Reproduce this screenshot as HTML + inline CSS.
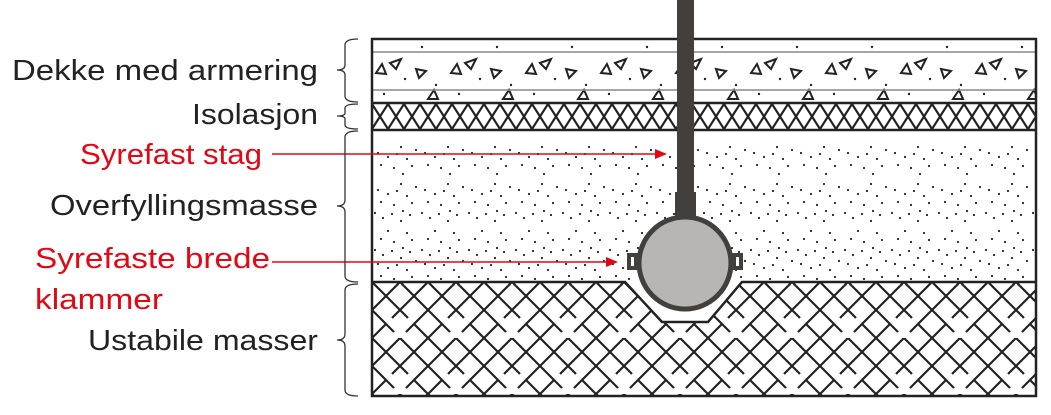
<!DOCTYPE html>
<html><head><style>
body{margin:0;background:#fff;width:1051px;height:410px;overflow:hidden}
svg text{font-family:"Liberation Sans",sans-serif;font-size:29px}
</style></head><body>
<svg width="1051" height="410" viewBox="0 0 1051 410" xmlns="http://www.w3.org/2000/svg">
<defs>
<pattern id="xh" width="16" height="25" patternUnits="userSpaceOnUse" x="372" y="104">
<path d="M0 0L16 25M16 0L0 25" stroke="#222" stroke-width="2.2"/>
</pattern>
<pattern id="us" width="56" height="56" patternUnits="userSpaceOnUse" x="372" y="282">
<g stroke="#222" stroke-width="2.2">
<path d="M0 0L36 36M42 42L56 56M28 0L56 28M-28 28L0 56M0 28L22 50"/>
<path d="M56 0L20 36M14 42L0 56M28 0L0 28M84 28L56 56M56 28L34 50"/>
</g>
</pattern>
<pattern id="dots" width="47" height="37" patternUnits="userSpaceOnUse" x="372" y="135">
<g fill="#222"><circle cx="3" cy="4" r="1.1"/><circle cx="11" cy="9" r="1.1"/><circle cx="20" cy="5" r="1.1"/><circle cx="29" cy="12" r="1.1"/><circle cx="38" cy="6" r="1.1"/><circle cx="44" cy="15" r="1.1"/><circle cx="6" cy="18" r="1.1"/><circle cx="16" cy="22" r="1.1"/><circle cx="25" cy="19" r="1.1"/><circle cx="35" cy="24" r="1.1"/><circle cx="9" cy="30" r="1.1"/><circle cx="22" cy="33" r="1.1"/><circle cx="40" cy="31" r="1.1"/><circle cx="31" cy="2" r="1.1"/></g>
</pattern>
<pattern id="dd" width="75" height="63" patternUnits="userSpaceOnUse" x="372" y="39">
<g fill="#222"><circle cx="50" cy="8" r="1.2"/><circle cx="12" cy="55" r="1.2"/><circle cx="33" cy="40" r="1.2"/><circle cx="64" cy="46" r="1.2"/></g>
<path d="M18 24l11-4-5 10z M44 30l10 2-7 7z M4 34l6-9 4 10z M56 60l6-9 4 9z" fill="none" stroke="#222" stroke-width="2"/>
</pattern>
</defs>
<rect x="372" y="39" width="664" height="63" fill="url(#dd)"/>
<line x1="372" y1="52" x2="1036" y2="52" stroke="#888" stroke-width="1.5"/>
<line x1="372" y1="90" x2="1036" y2="90" stroke="#888" stroke-width="1.5"/>
<rect x="372" y="104" width="664" height="25" fill="url(#xh)"/>
<rect x="372" y="131" width="664" height="151" fill="url(#dots)"/>
<rect x="372" y="131" width="664" height="14" fill="#fff"/>
<rect x="372" y="175" width="664" height="8" fill="#fff"/>
<rect x="372" y="222" width="664" height="8" fill="#fff"/>
<path d="M372 282H625L662 322H708L742 282H1036V396H372Z" fill="url(#us)"/>
<path d="M372 282H625L662 322H708L742 282H1036" fill="none" stroke="#222" stroke-width="2.5"/>
<rect x="372" y="39" width="664" height="357" fill="none" stroke="#222" stroke-width="2.5"/>
<line x1="372" y1="103" x2="1036" y2="103" stroke="#222" stroke-width="2.5"/>
<line x1="372" y1="130" x2="1036" y2="130" stroke="#222" stroke-width="2.5"/>
<rect x="677" y="0" width="17" height="200" fill="#433f3c"/>
<rect x="675" y="192" width="21" height="25" fill="#433f3c"/>
<rect x="627" y="253" width="116" height="17" fill="#433f3c"/>
<rect x="631" y="257" width="3" height="9" fill="#fff"/>
<rect x="736" y="257" width="3" height="9" fill="#fff"/>
<circle cx="685" cy="263" r="46" fill="#b8b6b4" stroke="#433f3c" stroke-width="5"/>
<line x1="272" y1="154" x2="655" y2="154" stroke="#e30613" stroke-width="1.5"/>
<path d="M667 154l-12-5v10z" fill="#e30613"/>
<line x1="272" y1="262" x2="606" y2="262" stroke="#e30613" stroke-width="1.5"/>
<path d="M618 262l-12-5v10z" fill="#e30613"/>
<g fill="none" stroke="#333" stroke-width="1.3">
<path d="M358 39Q345 39 345 45V65Q345 70 337 70Q345 70 345 75V96Q345 102 358 102"/>
<path d="M358 104Q345 104 345 108V113Q345 116 337 116Q345 116 345 119V125Q345 129 358 129"/>
<path d="M358 131Q345 131 345 137V200Q345 206 337 206Q345 206 345 212V276Q345 282 358 282"/>
<path d="M358 284Q345 284 345 290V334Q345 340 337 340Q345 340 345 346V390Q345 396 358 396"/>
</g>
<g fill="#222">
<text x="12" y="80" textLength="306" lengthAdjust="spacingAndGlyphs">Dekke med armering</text>
<text x="192" y="124" textLength="126" lengthAdjust="spacingAndGlyphs">Isolasjon</text>
<text x="50" y="215" textLength="268" lengthAdjust="spacingAndGlyphs">Overfyllingsmasse</text>
<text x="88" y="350" textLength="230" lengthAdjust="spacingAndGlyphs">Ustabile masser</text>
</g>
<g fill="#e30613">
<text x="80" y="164" textLength="182" lengthAdjust="spacingAndGlyphs">Syrefast stag</text>
<text x="35" y="268" textLength="235" lengthAdjust="spacingAndGlyphs">Syrefaste brede</text>
<text x="35" y="309" textLength="128" lengthAdjust="spacingAndGlyphs">klammer</text>
</g>
</svg>
</body></html>
